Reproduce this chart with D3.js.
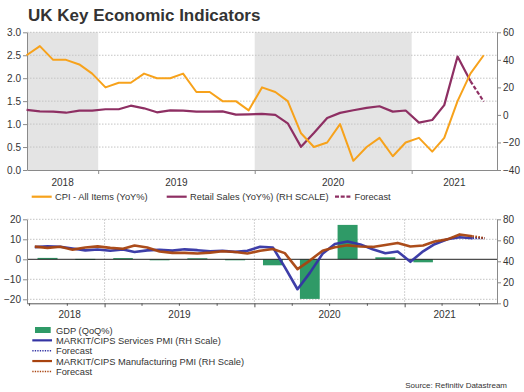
<!DOCTYPE html>
<html><head><meta charset="utf-8">
<script src="https://cdn.jsdelivr.net/npm/d3@7"></script>
<style>
html,body{margin:0;padding:0;background:#fff;}
svg{display:block;font-family:"Liberation Sans",Arial,sans-serif;}
</style></head><body>
<svg id="c" width="524" height="392"></svg>
<script>
// ---------------- DATA ----------------
const chartTitle = "UK Key Economic Indicators";
const sourceText = "Source: Refinitiv Datastream";
const years = ["2018", "2019", "2020", "2021"];
const shadedYears = ["2018", "2020"];

const cpiMonths = ["2018-07","2018-08","2018-09","2018-10","2018-11","2018-12",
  "2019-01","2019-02","2019-03","2019-04","2019-05","2019-06","2019-07","2019-08","2019-09","2019-10","2019-11","2019-12",
  "2020-01","2020-02","2020-03","2020-04","2020-05","2020-06","2020-07","2020-08","2020-09","2020-10","2020-11","2020-12",
  "2021-01","2021-02","2021-03","2021-04","2021-05","2021-06"];
const cpi = [2.5, 2.7, 2.4, 2.4, 2.3, 2.1,
  1.8, 1.9, 1.9, 2.1, 2.0, 2.0, 2.1, 1.7, 1.7, 1.5, 1.5, 1.3,
  1.8, 1.7, 1.5, 0.8, 0.5, 0.6, 1.0, 0.2, 0.5, 0.7, 0.3, 0.6,
  0.7, 0.4, 0.7, 1.5, 2.1, 2.5];

const retailMonths = ["2018-07","2018-08","2018-09","2018-10","2018-11","2018-12",
  "2019-01","2019-02","2019-03","2019-04","2019-05","2019-06","2019-07","2019-08","2019-09","2019-10","2019-11","2019-12",
  "2020-01","2020-02","2020-03","2020-04","2020-05","2020-06","2020-07","2020-08","2020-09","2020-10","2020-11","2020-12",
  "2021-01","2021-02","2021-03","2021-04","2021-05"];
const retailSales = [3.6, 2.6, 2.4, 1.6, 3.1, 3.1,
  4.1, 4.1, 6.7, 4.8, 1.9, 3.3, 3.1, 2.4, 2.4, 2.6, 0.2, 0.4,
  0.7, 0.0, -6.1, -23.2, -13.2, -2.2, 1.5, 3.4, 5.1, 6.3, 2.4, 3.2,
  -5.6, -3.7, 7.1, 42.4, 24.6];
const retailForecastMonths = ["2021-05", "2021-06"];
const retailForecast = [24.6, 9.7];

const pmiMonths = ["2018-07","2018-08","2018-09","2018-10","2018-11","2018-12",
  "2019-01","2019-02","2019-03","2019-04","2019-05","2019-06","2019-07","2019-08","2019-09","2019-10","2019-11","2019-12",
  "2020-01","2020-02","2020-03","2020-04","2020-05","2020-06","2020-07","2020-08","2020-09","2020-10","2020-11","2020-12",
  "2021-01","2021-02","2021-03","2021-04","2021-05","2021-06"];
const servicesPMI = [53.5, 54.3, 53.9, 52.2, 50.4, 51.2,
  50.1, 51.3, 48.9, 50.4, 51.0, 50.2, 51.4, 50.6, 49.5, 50.0, 49.0, 50.0,
  53.9, 53.2, 34.5, 13.4, 29.0, 47.1, 56.5, 58.8, 56.1, 51.4, 47.6, 49.4,
  39.5, 49.5, 56.3, 61.0, 62.9, 62.0];
const manufacturingPMI = [54.0, 52.8, 53.8, 51.1, 53.1, 54.2,
  52.8, 52.0, 55.1, 53.1, 49.4, 48.0, 48.0, 47.4, 48.3, 49.6, 48.9, 47.5,
  50.0, 51.7, 47.8, 32.6, 40.7, 50.1, 53.3, 55.2, 54.1, 53.7, 55.6, 57.5,
  54.1, 55.1, 58.9, 60.9, 65.6, 63.9];
const pmiForecastMonths = ["2021-06", "2021-07"];
const servicesForecast = [62.0, 62.0];
const manufacturingForecast = [63.9, 62.0];

const gdpQuarters = ["2018Q3","2018Q4","2019Q1","2019Q2","2019Q3","2019Q4",
  "2020Q1","2020Q2","2020Q3","2020Q4","2021Q1"];
const gdp = [0.7, 0.2, 0.6, -0.1, 0.5, 0.0, -3.0, -19.8, 17.2, 1.0, -1.5];

const topLeftTicks = [0.0, 0.5, 1.0, 1.5, 2.0, 2.5, 3.0];
const topRightTicks = [-40, -20, 0, 20, 40, 60];
const botLeftTicks = [-20, -10, 0, 10, 20];
const botRightTicks = [0, 20, 40, 60, 80];

const topLegend = [
  {label: "CPI - All Items (YoY%)", kind: "line", color: "#f7a21b"},
  {label: "Retail Sales (YoY%) (RH SCALE)", kind: "line", color: "#8e2f63"},
  {label: "Forecast", kind: "dash", color: "#8e2f63"}
];
const botLegend = [
  {label: "GDP (QoQ%)", kind: "rect", color: "#2f9a67"},
  {label: "MARKIT/CIPS Services PMI (RH Scale)", kind: "line", color: "#3434a3"},
  {label: "Forecast", kind: "dot", color: "#3434a3"},
  {label: "MARKIT/CIPS Manufacturing PMI (RH Scale)", kind: "line", color: "#a8430f"},
  {label: "Forecast", kind: "dot", color: "#a8430f"}
];

// ---------------- HELPERS ----------------
const svg = d3.select("#c");
const TXT = "#333";
const AX = "#8a8a8a";
const GRID = "#c4c4c4";
const mDate = (s, day) => { const [y, m] = s.split("-").map(Number); return new Date(y, m - 1, day); };
const qStart = q => new Date(+q.slice(0, 4), (+q.slice(5) - 1) * 3, 1);
const qEnd = q => new Date(+q.slice(0, 4), (+q.slice(5)) * 3, 1);
const qMid = q => new Date(+q.slice(0, 4), (+q.slice(5) - 1) * 3 + 1, 15);
const yStart = y => new Date(+y, 0, 1);

// ---------------- LAYOUT ----------------
const L = 27, R = 497;
const topY0 = 32.3, topY1 = 170;
const botY0 = 219.3, botY1 = 303.3;

svg.append("text").attr("x", 28).attr("y", 21).attr("fill", TXT)
  .attr("font-size", 17).attr("font-weight", "bold").text(chartTitle);

function styleAxis(g) {
  g.select(".domain").attr("stroke", AX);
  g.selectAll(".tick line").attr("stroke", AX);
  g.selectAll(".tick text").attr("fill", TXT).attr("font-size", 10)
    .attr("font-family", '"Liberation Sans",Arial,sans-serif');
}

// ================= TOP CHART =================
const xTop = d3.scaleTime().domain([new Date(2018, 6, 19), new Date(2021, 6, 19)]).range([L, R]);
const yTopL = d3.scaleLinear().domain([0, 3]).range([topY1, topY0]);
const yTopR = d3.scaleLinear().domain([-40, 60]).range([topY1, topY0]);
const topG = svg.append("g");

topG.selectAll("rect.band").data(shadedYears).join("rect").attr("class", "band")
  .attr("x", d => Math.max(L, xTop(yStart(d))))
  .attr("width", d => Math.min(R, xTop(yStart(+d + 1))) - Math.max(L, xTop(yStart(d))))
  .attr("y", topY0).attr("height", topY1 - topY0).attr("fill", "#e4e4e4");

topG.selectAll("line.grid").data(topLeftTicks.filter(d => d > 0)).join("line")
  .attr("x1", L).attr("x2", R).attr("y1", d => yTopL(d)).attr("y2", d => yTopL(d))
  .attr("stroke", GRID).attr("stroke-width", 1).attr("stroke-dasharray", "1.5,1.5");

topG.append("g").attr("transform", `translate(${L},0)`)
  .call(d3.axisLeft(yTopL).tickValues(topLeftTicks).tickFormat(d3.format(".1f")).tickSize(4).tickPadding(2).tickSizeOuter(0))
  .call(styleAxis);
topG.append("g").attr("transform", `translate(${R},0)`)
  .call(d3.axisRight(yTopR).tickValues(topRightTicks).tickFormat(d3.format("d")).tickSize(4).tickPadding(2).tickSizeOuter(0))
  .call(styleAxis);
topG.append("g").attr("transform", `translate(0,${topY1})`)
  .call(d3.axisBottom(xTop).tickValues(years.slice(1).map(yStart)).tickFormat("").tickSize(4).tickSizeOuter(0))
  .call(styleAxis);

topG.selectAll("text.yr").data(years).join("text")
  .attr("x", d => (Math.max(L, xTop(yStart(d))) + Math.min(R, xTop(yStart(+d + 1)))) / 2)
  .attr("y", topY1 + 15.5).attr("text-anchor", "middle").attr("fill", TXT).attr("font-size", 10).text(d => d);

const lineTopL = d3.line().x(d => xTop(mDate(d[0], 18))).y(d => yTopL(d[1]));
const lineTopR = d3.line().x(d => xTop(mDate(d[0], 18))).y(d => yTopR(d[1]));
topG.append("path").datum(d3.zip(retailMonths, retailSales)).attr("d", lineTopR)
  .attr("fill", "none").attr("stroke", "#8e2f63").attr("stroke-width", 2.2).attr("stroke-linejoin", "round");
topG.append("path").datum(d3.zip(retailForecastMonths, retailForecast)).attr("d", lineTopR)
  .attr("fill", "none").attr("stroke", "#8e2f63").attr("stroke-width", 2.2).attr("stroke-dasharray", "4,2");
topG.append("path").datum(d3.zip(cpiMonths, cpi)).attr("d", lineTopL)
  .attr("fill", "none").attr("stroke", "#f7a21b").attr("stroke-width", 2).attr("stroke-linejoin", "round");

const tlX = [31.7, 166.7, 335];
const tl = svg.append("g");
topLegend.forEach((d, i) => {
  const g = tl.append("g").attr("transform", `translate(${tlX[i]},196.7)`);
  g.append("line").attr("x1", 0).attr("x2", i === 2 ? 17 : 20).attr("y1", 0).attr("y2", 0)
    .attr("stroke", d.color).attr("stroke-width", 2.2).attr("stroke-dasharray", d.kind === "dash" ? "4,1.7" : null);
  g.append("text").attr("x", i === 2 ? 19.5 : 23.3).attr("y", 3.5).attr("fill", TXT).attr("font-size", 9.3).text(d.label);
});

// ================= BOTTOM CHART =================
const xBot = d3.scaleTime().domain([new Date(2018, 5, 26), new Date(2021, 7, 14)]).range([L, R]);
const yBotL = d3.scaleLinear().domain([-22, 20]).range([botY1, botY0]);
const yBotR = d3.scaleLinear().domain([0, 80]).range([botY1, botY0]);
const botG = svg.append("g");

botG.selectAll("line.hg").data(botLeftTicks.filter(d => d !== 0)).join("line")
  .attr("x1", L).attr("x2", R).attr("y1", d => yBotL(d)).attr("y2", d => yBotL(d))
  .attr("stroke", GRID).attr("stroke-dasharray", "1.5,1.5");
botG.selectAll("line.vg").data(years.slice(1)).join("line")
  .attr("x1", d => xBot(yStart(d))).attr("x2", d => xBot(yStart(d)))
  .attr("y1", botY0).attr("y2", botY1)
  .attr("stroke", GRID).attr("stroke-dasharray", "1.5,1.5");

botG.selectAll("rect.gdp").data(d3.zip(gdpQuarters, gdp)).join("rect")
  .attr("x", d => xBot(qMid(d[0])) - 0.53 * (xBot(qEnd(d[0])) - xBot(qStart(d[0]))) / 2)
  .attr("width", d => 0.53 * (xBot(qEnd(d[0])) - xBot(qStart(d[0]))))
  .attr("y", d => yBotL(Math.max(0, d[1])))
  .attr("height", d => Math.max(1, Math.abs(yBotL(d[1]) - yBotL(0))))
  .attr("fill", "#2f9a67");

botG.append("line").attr("x1", L).attr("x2", R).attr("y1", yBotL(0)).attr("y2", yBotL(0))
  .attr("stroke", "#222").attr("stroke-width", 1);

botG.append("g").attr("transform", `translate(${L},0)`)
  .call(d3.axisLeft(yBotL).tickValues(botLeftTicks).tickFormat(d3.format("d")).tickSize(4).tickPadding(2).tickSizeOuter(0))
  .call(styleAxis);
botG.append("g").attr("transform", `translate(${R},0)`)
  .call(d3.axisRight(yBotR).tickValues(botRightTicks).tickFormat(d3.format("d")).tickSize(4).tickPadding(2).tickSizeOuter(0))
  .call(styleAxis);
const quarterTicks = d3.timeMonth.every(3).range(new Date(2018, 6, 1), new Date(2021, 7, 14));
botG.append("g").attr("transform", `translate(0,${botY1})`)
  .call(d3.axisBottom(xBot).tickValues(quarterTicks).tickFormat("").tickSize(2.5).tickSizeOuter(0))
  .call(styleAxis)
  .call(g => g.select(".domain").attr("stroke", "#555"))
  .call(g => g.selectAll(".tick line").attr("y2", d => d.getMonth() === 0 ? 4 : 2.5).attr("stroke", "#555"));

const pmiStart = mDate(pmiMonths[0], 15), pmiEnd = mDate(pmiForecastMonths[1], 15);
botG.selectAll("text.yr").data(years).join("text")
  .attr("x", d => (xBot(d3.max([pmiStart, yStart(d)])) + xBot(d3.min([pmiEnd, yStart(+d + 1)]))) / 2)
  .attr("y", botY1 + 14.5).attr("text-anchor", "middle").attr("fill", TXT).attr("font-size", 10).text(d => d);

const lineBot = d3.line().x(d => xBot(mDate(d[0], 15))).y(d => yBotR(d[1]));
[[servicesPMI, servicesForecast, "#3434a3"], [manufacturingPMI, manufacturingForecast, "#a8430f"]].forEach(([vals, fc, col]) => {
  botG.append("path").datum(d3.zip(pmiMonths, vals)).attr("d", lineBot)
    .attr("fill", "none").attr("stroke", col).attr("stroke-width", 2.6).attr("stroke-linejoin", "round").attr("stroke-opacity", 0.95);
  botG.append("path").datum(d3.zip(pmiForecastMonths, fc)).attr("d", lineBot)
    .attr("fill", "none").attr("stroke", col).attr("stroke-width", 2.2).attr("stroke-dasharray", "1.6,1.4");
});

const bl = svg.append("g");
botLegend.forEach((d, i) => {
  const y = 330 + i * 10.35;
  const g = bl.append("g").attr("transform", `translate(0,${y})`);
  if (d.kind === "rect") {
    g.append("rect").attr("x", 35).attr("y", -3).attr("width", 15.7).attr("height", 6).attr("fill", d.color);
  } else {
    g.append("line").attr("x1", 32.3).attr("x2", 52).attr("y1", 0).attr("y2", 0)
      .attr("stroke", d.color).attr("stroke-width", d.kind === "dot" ? 1.5 : 2.2)
      .attr("stroke-dasharray", d.kind === "dot" ? "1.3,1.2" : null);
  }
  g.append("text").attr("x", 56).attr("y", 3.5).attr("fill", TXT).attr("font-size", 9.3).text(d.label);
});

svg.append("text").attr("x", 507).attr("y", 388).attr("text-anchor", "end").attr("fill", TXT)
  .attr("font-size", 8).text(sourceText);
</script>
</body></html>
